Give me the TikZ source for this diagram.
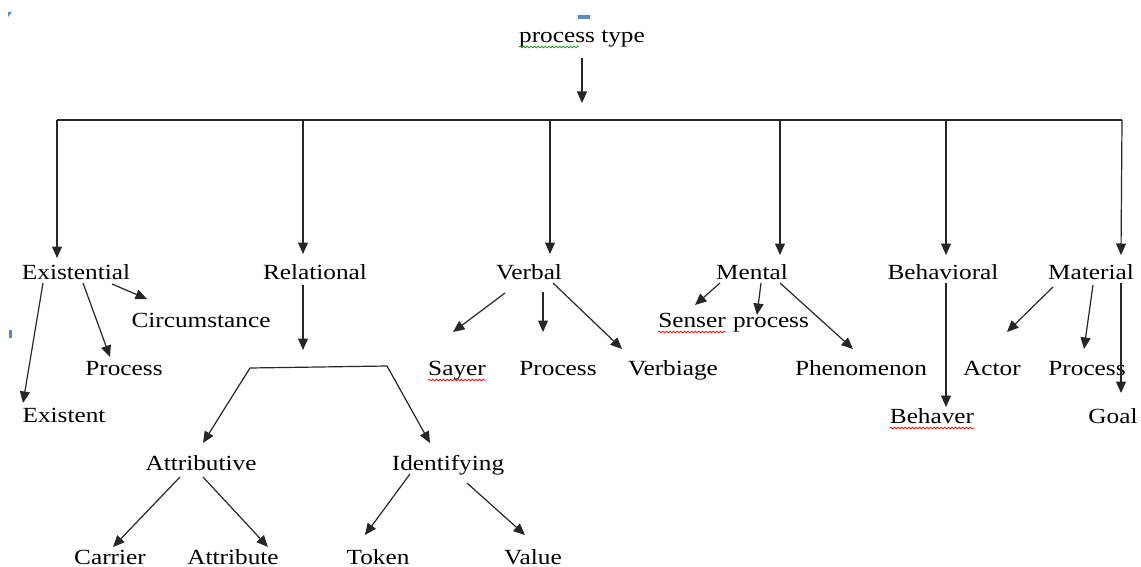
\documentclass[tikz,border=0pt]{standalone}
\usepackage{fontspec}
\setmainfont[FakeStretch=1.17]{Liberation Serif}
\usetikzlibrary{arrows.meta,decorations.pathmorphing}
\definecolor{markblue}{HTML}{5B86C8}
\begin{document}
\begin{tikzpicture}[x=1pt,y=1pt,
  lbl/.style={inner sep=0pt, anchor=base, font=\fontsize{21.6}{24}\selectfont},
  arr/.style={-{Triangle[length=11.5pt,width=10pt]}, line width=1.2pt, draw=black!85},
  ln/.style={line width=1.2pt, draw=black!85},
  wavy/.style={decorate, decoration={snake, amplitude=0.9pt, segment length=3.6pt}, line width=0.7pt},
  bluemark/.style={fill=markblue, draw=none}]
\useasboundingbox (0,0) rectangle (1141,-567);
% small marks
\fill[bluemark] (8,-12) -- (12,-12) -- (8,-17) -- cycle;
\fill[bluemark] (578,-15) rectangle (590,-19);
\fill[bluemark] (9,-330) rectangle (12,-338);
% nodes
\node[lbl] (pt) at (582,-43) {process type};
\node[lbl] (exist) at (76,-279) {Existential};
\node[lbl] (rel) at (315,-279) {Relational};
\node[lbl] (verb) at (529,-279) {Verbal};
\node[lbl] (ment) at (752,-279) {Mental};
\node[lbl] (behv) at (943,-279) {Behavioral};
\node[lbl] (mat) at (1091,-279) {Material};
\node[lbl] (circ) at (201,-327) {Circumstance};
\node[lbl] (eproc) at (124,-375) {Process};
\node[lbl] (existent) at (64,-422) {Existent};
\node[lbl] (sayer) at (457,-375) {Sayer};
\node[lbl] (vproc) at (558,-375) {Process};
\node[lbl] (verbiage) at (673,-375) {Verbiage};
\node[lbl] (senser) at (692,-327) {Senser};
\node[lbl] (mproc) at (771,-327) {process};
\node[lbl] (phen) at (861,-375) {Phenomenon};
\node[lbl] (actor) at (992,-375) {Actor};
\node[lbl] (matproc) at (1087,-375) {Process};
\node[lbl] (behaver) at (932,-423) {Behaver};
\node[lbl] (goal) at (1113,-423) {Goal};
\node[lbl] (attrib) at (201,-470) {Attributive};
\node[lbl] (ident) at (448,-470) {Identifying};
\node[lbl] (carrier) at (110,-564) {Carrier};
\node[lbl] (attribute) at (233,-564) {Attribute};
\node[lbl] (token) at (378,-564) {Token};
\node[lbl] (value) at (533,-564) {Value};
% spell-check underlines
\draw[wavy, green!60!black] ([shift={(0,-4)}]pt.base west) -- ++(60,0);
\draw[wavy, red] ([shift={(0,-5)}]sayer.base west) -- ([shift={(0,-5)}]sayer.base east);
\draw[wavy, red] ([shift={(0,-5)}]senser.base west) -- ([shift={(0,-5)}]senser.base east);
\draw[wavy, red] ([shift={(0,-5)}]behaver.base west) -- ([shift={(0,-5)}]behaver.base east);
% top
\coordinate (hub) at (582,-103);
\coordinate (barL) at (57,-120);
\coordinate (barR) at (1122,-120);
\draw[arr] ([shift={(0,-15)}]pt.base) -- (hub);
\draw[ln] (barL) -- (barR);
\draw[arr] (barL) -- ([shift={(-19,21)}]exist.base);
\draw[arr] (303,-120) -- ([shift={(-12,25)}]rel.base);
\draw[arr] (550,-120) -- ([shift={(21,25)}]verb.base);
\draw[arr] (780,-120) -- ([shift={(28,24)}]ment.base);
\draw[arr] (946,-120) -- ([shift={(3,24)}]behv.base);
\draw[arr] (barR) -- ([shift={(30,24)}]mat.base);
% existential
\draw[arr] ([shift={(-33,-4)}]exist.base) -- ([shift={(-41,19)}]existent.base);
\draw[arr] ([shift={(7,-4)}]exist.base) -- ([shift={(-14,18)}]eproc.base);
\draw[arr] ([shift={(36,-5)}]exist.base) -- ([shift={(-54,28)}]circ.base);
% relational
\coordinate (relT) at (303,-350);
\coordinate (brL) at (250,-368);
\coordinate (brR) at (387,-366);
\draw[arr] ([shift={(-12,-6)}]rel.base) -- (relT);
\draw[ln] (brL) -- (brR);
\draw[arr] (brL) -- ([shift={(2,27)}]attrib.base);
\draw[arr] (brR) -- ([shift={(-18,27)}]ident.base);
\draw[arr] ([shift={(-21,-7)}]attrib.base) -- ([shift={(3,17)}]carrier.base);
\draw[arr] ([shift={(2,-7)}]attrib.base) -- ([shift={(35,17)}]attribute.base);
\draw[arr] ([shift={(-38,-4)}]ident.base) -- ([shift={(-13,29)}]token.base);
\draw[arr] ([shift={(19,-13)}]ident.base) -- ([shift={(-8,29)}]value.base);
% verbal
\draw[arr] ([shift={(-24,-14)}]verb.base) -- ([shift={(-4,43)}]sayer.base);
\draw[arr] ([shift={(14,-13)}]verb.base) -- ([shift={(-15,43)}]vproc.base);
\draw[arr] ([shift={(24,-4)}]verb.base) -- ([shift={(-51,26)}]verbiage.base);
% mental
\draw[arr] ([shift={(-32,-4)}]ment.base) -- ([shift={(3,22)}]senser.base);
\draw[arr] ([shift={(9,-4)}]ment.base) -- ([shift={(-14,12)}]mproc.base);
\draw[arr] ([shift={(28,-4)}]ment.base) -- ([shift={(-8,26)}]phen.base);
% behavioral
\draw[arr] ([shift={(3,-4)}]behv.base) -- ([shift={(14,16)}]behaver.base);
% material
\draw[arr] ([shift={(-38,-8)}]mat.base) -- ([shift={(15,43)}]actor.base);
\draw[arr] ([shift={(2,-6)}]mat.base) -- ([shift={(-3,26)}]matproc.base);
\draw[arr] ([shift={(30,-4)}]mat.base) -- ([shift={(8,30)}]goal.base);
\end{tikzpicture}
\end{document}
